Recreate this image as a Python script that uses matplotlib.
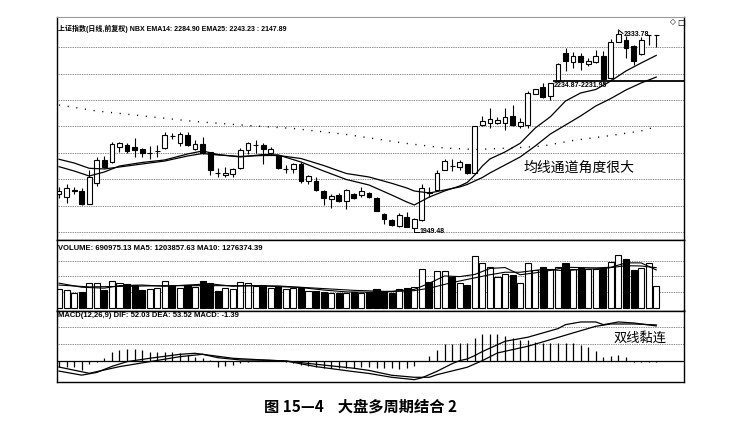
import matplotlib
matplotlib.use('Agg')
import matplotlib.pyplot as plt
import numpy as np

# ---------------- data ----------------
opens = [2018.6, 2012.9, 2025.0, 2025.0, 1999.4, 2039.2, 2083.0, 2079.2, 2109.5, 2112.8,
         2108.0, 2104.5, 2096.8, 2100.8, 2107.0, 2130.6, 2116.6, 2131.0, 2105.1, 2114.1,
         2098.4, 2058.4, 2055.1, 2057.1, 2068.0, 2103.2, 2112.2, 2112.8, 2098.0, 2090.7,
         2066.1, 2066.1, 2076.3, 2044.2, 2042.8, 2025.0, 2009.6, 2017.3, 2005.0, 2018.6,
         2017.1, 2020.6, 2010.4, 1980.2, 1968.7, 1957.2, 1973.9, 1952.7, 1968.7, 2021.5,
         2025.4, 2065.3, 2072.8, 2071.1, 2075.3, 2059.6, 2151.2, 2154.5, 2155.6, 2154.5,
         2168.5, 2149.3, 2151.2, 2211.7, 2223.3, 2207.3, 2234.87, 2289.0, 2272.8, 2284.4,
         2267.8, 2272.8, 2284.4, 2240.9, 2311.3, 2314.5, 2303.6, 2287.1, 2323.5, 2323.5]
highs = [2032.1, 2037.8, 2032.7, 2030.2, 2064.7, 2090.3, 2091.6, 2119.1, 2119.1, 2116.6,
         2125.7, 2107.0, 2110.9, 2113.0, 2137.8, 2136.4, 2138.3, 2137.8, 2122.4, 2128.2,
         2100.0, 2068.6, 2070.5, 2068.0, 2106.4, 2119.1, 2122.4, 2116.0, 2108.4, 2093.0,
         2074.4, 2079.0, 2080.7, 2055.0, 2050.7, 2026.0, 2018.6, 2020.6, 2028.5, 2021.1,
         2031.5, 2022.0, 2012.0, 1982.0, 1970.0, 1982.7, 1984.6, 1972.0, 2036.9, 2032.7,
         2064.7, 2085.0, 2085.9, 2083.9, 2077.0, 2150.0, 2168.5, 2183.3, 2166.0, 2183.9,
         2189.6, 2164.0, 2216.0, 2221.0, 2231.9, 2231.95, 2270.0, 2298.6, 2292.1, 2289.0,
         2280.5, 2295.3, 2293.4, 2316.5, 2333.78, 2322.8, 2305.0, 2320.9, 2324.5, 2324.5]
lows = [2010.9, 2001.3, 2018.6, 1998.0, 1998.5, 2034.6, 2069.0, 2078.0, 2099.9, 2098.0,
        2089.7, 2089.7, 2086.8, 2089.0, 2105.0, 2123.4, 2110.9, 2110.0, 2104.0, 2096.0,
        2054.2, 2051.3, 2051.3, 2050.7, 2067.0, 2094.5, 2096.8, 2075.3, 2094.1, 2066.0,
        2059.6, 2059.0, 2040.3, 2036.9, 2025.0, 1996.5, 1991.1, 2003.0, 1989.8, 2008.4,
        2012.3, 2011.0, 1985.0, 1961.0, 1958.0, 1956.0, 1954.5, 1949.48, 1967.0, 2013.4,
        2024.0, 2064.0, 2063.4, 2064.7, 2057.0, 2058.0, 2149.0, 2144.9, 2153.0, 2141.6,
        2149.0, 2145.4, 2144.9, 2210.0, 2204.0, 2199.8, 2234.87, 2255.0, 2261.3, 2256.9,
        2264.6, 2270.0, 2237.1, 2239.0, 2310.0, 2279.4, 2266.5, 2285.0, 2305.0, 2301.1]
closes = [2024.4, 2030.2, 2025.8, 1999.4, 2051.9, 2084.0, 2070.5, 2114.1, 2117.2, 2100.3,
          2102.6, 2097.4, 2097.4, 2101.6, 2131.0, 2130.0, 2133.0, 2111.8, 2114.3, 2097.4,
          2063.8, 2058.0, 2059.6, 2066.1, 2102.2, 2116.0, 2112.8, 2104.5, 2104.5, 2068.0,
          2066.6, 2076.9, 2044.2, 2053.2, 2026.3, 2010.4, 2014.8, 2004.6, 2026.9, 2010.9,
          2024.8, 2012.3, 1986.5, 1970.0, 1959.1, 1978.3, 1955.8, 1970.0, 2029.6, 2021.1,
          2059.9, 2082.0, 2072.4, 2080.7, 2058.4, 2149.3, 2158.9, 2161.8, 2160.4, 2167.2,
          2151.2, 2157.9, 2213.3, 2219.4, 2205.6, 2231.95, 2267.8, 2274.2, 2284.4, 2272.8,
          2274.2, 2284.4, 2239.6, 2311.3, 2325.5, 2299.7, 2274.2, 2314.5, 2324.1, 2324.1]
# volume in units of 10,000
volumes = [58.3, 56.1, 47.4, 50.6, 77.6, 79.5, 56.1, 84.9, 79.5, 75.3,
           72.1, 56.1, 58.3, 61.5, 85.9, 68.9, 63.5, 72.1, 66.7, 85.9,
           79.5, 53.8, 61.5, 59.3, 82.7, 77.6, 68.9, 72.1, 61.5, 68.9,
           58.3, 61.5, 61.5, 53.8, 53.8, 50.6, 47.4, 45.5, 47.4, 50.6,
           47.4, 50.6, 58.3, 50.6, 47.4, 58.3, 61.5, 64.7, 122.4, 82.7,
           117.9, 117.9, 96.8, 79.5, 72.1, 165.1, 143.6, 128.8, 96.8, 107.4,
           104.2, 79.5, 143.6, 120.2, 130.8, 122.4, 128.8, 141.7, 122.4, 125.6,
           122.4, 122.4, 125.6, 146.8, 168.3, 154.5, 120.2, 125.6, 141.7, 69.1]

ema14_idx = [1, 3, 5, 7, 9, 12, 15, 18, 20, 22, 25, 28, 30, 33, 36, 39, 42, 45, 47, 48,
             50, 52, 54, 55, 56, 57, 58, 60, 62, 64, 66, 68, 70, 72, 74, 76, 78, 80]
ema14_val = [2071.1, 2062.8, 2053.2, 2060.9, 2072.4, 2079.2, 2084.0, 2095.5, 2101.3, 2094.5,
             2089.7, 2094.5, 2093.6, 2080.1, 2062.8, 2046.5, 2035.9, 2016.7, 2003.3, 1997.5,
             2012.9, 2024.4, 2034.0, 2040.7, 2055.1, 2072.4, 2085.9, 2099.4, 2116.0, 2145.4,
             2167.0, 2197.3, 2212.7, 2219.4, 2235.8, 2255.0, 2270.3, 2284.9]
ema25_idx = [1, 3, 5, 7, 9, 12, 15, 18, 20, 22, 25, 28, 30, 33, 36, 39, 42, 45, 47, 48,
             50, 52, 54, 55, 56, 57, 58, 60, 62, 64, 66, 68, 70, 72, 74, 76, 78, 80]
ema25_val = [2085.3, 2078.2, 2068.0, 2066.7, 2070.5, 2076.3, 2082.0, 2091.6, 2096.4, 2093.6,
             2090.7, 2092.6, 2092.6, 2086.8, 2073.4, 2058.0, 2051.3, 2039.2, 2030.2, 2024.4,
             2020.5, 2026.3, 2032.1, 2036.9, 2043.6, 2050.3, 2059.0, 2074.4, 2089.7, 2110.9,
             2133.9, 2151.2, 2168.5, 2187.7, 2202.1, 2218.5, 2231.9, 2243.23]
malong_idx = [1, 6, 13, 19, 26, 32, 39, 43, 47, 52, 56, 61, 65, 69, 74, 78, 80]
malong_val = [2189.6, 2178.1, 2167.2, 2157.9, 2150.2, 2144.5, 2133.0, 2124.3, 2115.7, 2107.0,
              2104.1, 2107.0, 2110.9, 2121.4, 2131.0, 2139.7, 2147.89]

vma5_idx = [1, 4, 7, 9, 12, 15, 18, 21, 24, 27, 30, 33, 36, 39, 42, 45, 48, 50, 52, 54,
            56, 58, 60, 62, 64, 66, 68, 70, 72, 74, 76, 78, 80]
vma5_val = [78, 65, 62, 70, 72, 68, 72, 76, 68, 70, 67, 64, 56, 50, 49, 52, 58, 78, 101, 99,
            106, 125, 128, 105, 111, 119, 129, 128, 127, 129, 143, 143, 120.4]
vma10_idx = [1, 5, 10, 15, 20, 25, 30, 35, 40, 45, 48, 50, 53, 56, 58, 60, 62, 65, 68, 70,
             73, 76, 78, 80]
vma10_val = [72, 66, 68, 70, 70, 70, 69, 62, 55, 51, 54, 62, 80, 95, 105, 113, 113, 122, 118,
             122, 125, 134, 133, 127.6]

macd_hist = [-8.4, -8.4, -8.4, -13.4, -5.0, -1.0, 4.0, 13.9, 16.3, 17.8,
             17.8, 16.3, 13.9, 12.9, 13.9, 13.9, 11.4, 8.9, 6.4, 4.0,
             1.5, -8.4, -6.9, -5.9, -3.5, -1.0, 0.5, 1.0, 1.0, 0.3,
             -1.5, -3.5, -5.9, -6.9, -8.4, -9.9, -10.9, -10.9, -10.9, -10.9,
             -8.4, -8.9, -9.9, -9.9, -10.9, -12.4, -10.9, -7.4, 0.5, 7.4,
             16.3, 25.7, 25.7, 27.2, 27.2, 33.6, 39.6, 40.6, 39.6, 37.1,
             33.6, 30.7, 30.7, 28.7, 27.2, 27.2, 27.2, 27.2, 27.2, 23.7,
             20.8, 14.8, 5.9, 7.4, 8.9, 5.9, -1.5, -2.0, -1.5, -1.39]
dif_idx = [1, 4, 6, 8, 10, 13, 17, 19, 20, 22, 25, 28, 31, 35, 40, 42, 45, 48, 49, 51,
           53, 54, 55, 56, 57, 58, 60, 63, 65, 67, 68, 70, 72, 73, 75, 77, 80]
dif_val = [-15.0, -21.0, -17.0, -8.0, -1.0, 4.0, 9.9, 11.4, 9.9, 4.9, 1.5, 1.2, 0.0, -8.4,
           -15.8, -18.5, -24.2, -27.7, -25.0, -15.3, -4.0, 0.5, 3.0, 8.0, 14.0, 19.0, 29.2,
           35.2, 41.6, 48.0, 53.9, 57.9, 57.9, 53.9, 57.9, 56.4, 52.03]
dea_idx = [1, 5, 9, 13, 17, 20, 24, 28, 31, 35, 40, 42, 45, 48, 50, 51, 55, 57, 59, 63,
           66, 69, 72, 74, 77, 80]
dea_val = [-9.0, -18.3, -8.4, -1.0, 6.4, 9.9, 4.0, 1.5, 0.0, -4.9, -10.8, -14.0, -21.2,
           -24.2, -24.2, -20.3, -9.3, 0.5, 11.9, 21.8, 31.6, 41.6, 51.5, 54.9, 54.9, 53.52]

header_cn = "上证指数(日线,前复权)"
header_en = " NBX EMA14: 2284.90 EMA25: 2243.23 : 2147.89"
vol_label = "VOLUME: 690975.13 MA5: 1203857.63 MA10: 1276374.39"
macd_label = "MACD(12,26,9) DIF: 52.03 DEA: 53.52 MACD: -1.39"
note_main = "均线通道角度很大"
note_macd = "双线黏连"
caption = "图 15—4    大盘多周期结合 2"
gap_label = "2234.87-2231.95"
gap_level = 2234.87
low_label = "1949.48"
high_label = "2333.78"

# ---------------- figure ----------------
W, H = 736, 436
fig = plt.figure(figsize=(W / 100, H / 100), dpi=100)
fig.patch.set_facecolor('white')

X0, X1 = 57, 684
def rect(top, bot):
    return [X0 / W, 1 - bot / H, (X1 - X0) / W, (bot - top) / H]

ax1 = fig.add_axes(rect(17, 240))
ax2 = fig.add_axes(rect(240, 310.5))
ax3 = fig.add_axes(rect(310.5, 382))

n = len(closes)
idx = np.arange(1, n + 1)
xl = (1 + (X0 - 59) / 7.56, 1 + (X1 - 59) / 7.56)

GRID = dict(color='#3a3a3a', lw=0.55, linestyle=(0, (1, 1.3)), zorder=0)

for ax in (ax1, ax2, ax3):
    ax.set_xlim(*xl)
    ax.set_xticks([])
    ax.set_yticks([])
    for s in ax.spines.values():
        s.set_color('black')
        s.set_linewidth(1.0)
ax1.spines['top'].set_color('#9a9a9a')
ax1.spines['top'].set_linewidth(0.8)

# ---- main price panel ----
ax1.set_ylim(1930.2, 2358.7)
for p in np.arange(1944.7, 2310, 50.9):
    ax1.axhline(p, **GRID)

o = np.array(opens); c = np.array(closes); h = np.array(highs); l = np.array(lows)
up = c >= o
ax1.vlines(idx, l, h, color='black', lw=0.8, zorder=2)
body_bot = np.minimum(o, c)
body_h = np.maximum(np.abs(c - o), 0.6)
ax1.bar(idx, body_h, bottom=body_bot, width=0.64,
        color=np.where(up, 'white', 'black'), edgecolor='black', lw=0.8, zorder=3)

ax1.plot(ema14_idx, ema14_val, color='black', lw=0.9, zorder=4)
ax1.plot(ema25_idx, ema25_val, color='black', lw=0.9, zorder=4)
ax1.plot(malong_idx, malong_val, color='black', lw=1.0, linestyle=(0, (0.8, 5.5)), zorder=4)

ax1.hlines(gap_level, 66.3, xl[1], color='black', lw=1.3, zorder=5)
ax1.text(66.45, gap_level - 1.5, gap_label, fontsize=5, fontweight='bold',
         family='Liberation Sans', va='top', ha='left', zorder=6)

ax1.plot([48, 48, 48.6], [lows[47], 1946.0, 1946.0], color='black', lw=0.7, zorder=5)
ax1.text(48.65, 1946.0, low_label, fontsize=5, fontweight='bold',
         family='Liberation Sans', va='center', ha='left', zorder=6)

ax1.plot([75, 75.6], [highs[74], 2327.0], color='black', lw=0.7, zorder=5)
ax1.text(75.65, 2325.5, high_label, fontsize=5, fontweight='bold',
         family='Liberation Sans', va='center', ha='left', zorder=6)

# ---- volume panel ----
ax2.set_ylim(-9.6, 216.3)
for v in (50, 100, 150):
    ax2.axhline(v, **GRID)
ax2.bar(idx, volumes, width=0.8, color=np.where(up, 'white', 'black'),
        edgecolor='black', lw=0.8, zorder=2)
ax2.plot(vma5_idx, vma5_val, color='black', lw=0.8, zorder=3)
ax2.plot(vma10_idx, vma10_val, color='black', lw=0.8, zorder=3)

# ---- MACD panel ----
ax3.set_ylim(-31.2, 74.9)
for v in (25, 50):
    ax3.axhline(v, **GRID)
ax3.axhline(0, color='black', lw=0.9, zorder=1)
ax3.vlines(idx, 0, macd_hist, color='black', lw=0.9, zorder=2)
ax3.plot(dif_idx, dif_val, color='black', lw=0.9, zorder=3)
ax3.plot(dea_idx, dea_val, color='black', lw=0.9, zorder=3)

# ---- texts ----
FAM = ['Liberation Sans', 'Noto Sans CJK SC']
fig.text(58 / W, 1 - 28.5 / H, header_cn + header_en, fontsize=5, fontweight='bold',
         family=FAM, va='center', ha='left')
fig.text(58 / W, 1 - 248 / H, vol_label, fontsize=5.5, fontweight='bold',
         family=FAM, va='center', ha='left')
fig.text(58 / W, 1 - 315.5 / H, macd_label, fontsize=5.5, fontweight='bold',
         family=FAM, va='center', ha='left')
fig.text(523 / W, 1 - 167.5 / H, note_main, fontsize=10, family='Noto Sans CJK SC',
         va='center', ha='left')
fig.text(614 / W, 1 - 338 / H, note_macd, fontsize=9.5, family='Noto Sans CJK SC',
         va='center', ha='left')
fig.text(361 / W, 1 - 407 / H, caption, fontsize=11, fontweight='bold',
         family='Noto Sans CJK SC', va='center', ha='center')
fig.text(670 / W, 1 - 22 / H, "◇", fontsize=5.5, family='DejaVu Sans',
         va='center', ha='left')
fig.text(677 / W, 1 - 22 / H, "□", fontsize=6, family='DejaVu Sans',
         va='center', ha='left', fontweight='bold')

fig.savefig('out.png', dpi=100, facecolor='white')
